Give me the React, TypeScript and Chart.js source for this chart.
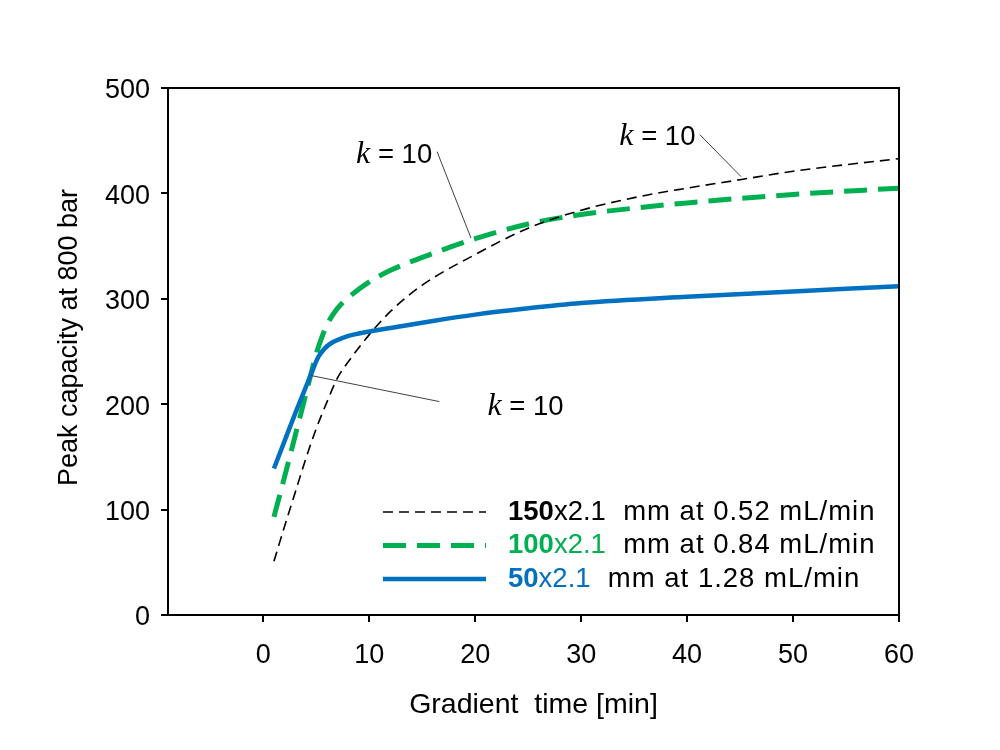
import React, { useEffect, useRef } from "react";
import { Chart, registerables } from "chart.js";

Chart.register(...registerables);

// ---------- data ----------
const xTickValues = [0, 10, 20, 30, 40, 50, 60];
const yTickValues = [0, 100, 200, 300, 400, 500];

const time150 = [1, 2, 3, 4, 5, 6, 7, 8, 10, 12, 15, 20, 25, 30, 35, 40, 45, 50, 60];
const peaks150 = [51, 84, 116, 148, 177, 202, 225, 240, 266, 288, 313, 342, 367, 384, 396, 405, 413, 421, 433];

const time100 = [1, 2, 3, 4, 5, 5.5, 6, 6.5, 7, 8, 10, 12, 16, 20, 25, 30, 35, 40, 50, 60];
const peaks100 = [93, 131, 170, 209, 248, 263, 275, 284, 291, 301, 316, 327, 343, 357, 371, 380, 386, 391, 399, 405];

const time50 = [1, 2, 3, 4, 4.6, 5.2, 5.8, 6.5, 7.5, 8.5, 10, 13, 16, 20, 25, 30, 40, 50, 60];
const peaks50 = [139, 165, 191, 216, 231, 245, 253, 258.5, 263, 266, 269, 274, 279, 285, 291, 296, 302, 307, 312];

// legend rows: [bold number, column size, rest]
const legendNumbers = ["150", "100", "50"];
const legendSizes = ["x2.1", "x2.1", "x2.1"];
const legendRest = ["  mm at 0.52 mL/min", "  mm at 0.84 mL/min", "  mm at 1.28 mL/min"];

// "k = 10" annotations (data coordinates)
const kLabelX = [8.75, 33.6, 21.15];
const kLabelY = [428.8, 446, 189.9];
const leaderStartX = [16.4, 41.2, 16.6];
const leaderStartY = [439.6, 455.7, 202.5];
const leaderEndX = [19.6, 45.1, 4.5];
const leaderEndY = [357.6, 415.8, 227.2];

const BLACK = "#000000";
const GREEN = "#00B050";
const BLUE = "#0070C0";
const SANS = "'Liberation Sans', Arial, sans-serif";
const SERIF = "'Liberation Serif', 'Times New Roman', serif";

const toXY = (xs: number[], ys: number[]) => xs.map((x, i) => ({ x, y: ys[i] }));

const framePlugin = {
  id: "frame",
  afterDraw(chart: any) {
    const { ctx, chartArea } = chart;
    ctx.save();
    ctx.strokeStyle = "#000";
    ctx.lineWidth = 2;
    ctx.beginPath();
    ctx.moveTo(chartArea.left, chartArea.top);
    ctx.lineTo(chartArea.right, chartArea.top);
    ctx.lineTo(chartArea.right, chartArea.bottom);
    ctx.stroke();
    ctx.restore();
  },
};

const annotationPlugin = {
  id: "kAnnotations",
  afterDatasetsDraw(chart: any) {
    const { ctx } = chart;
    const xs = chart.scales.x;
    const ys = chart.scales.y;
    ctx.save();
    ctx.strokeStyle = "#404040";
    ctx.lineWidth = 1;
    for (let i = 0; i < kLabelX.length; i++) {
      ctx.beginPath();
      ctx.moveTo(xs.getPixelForValue(leaderStartX[i]), ys.getPixelForValue(leaderStartY[i]));
      ctx.lineTo(xs.getPixelForValue(leaderEndX[i]), ys.getPixelForValue(leaderEndY[i]));
      ctx.stroke();
      let px = xs.getPixelForValue(kLabelX[i]);
      const py = ys.getPixelForValue(kLabelY[i]);
      ctx.fillStyle = "#000";
      ctx.textBaseline = "alphabetic";
      ctx.textAlign = "left";
      ctx.font = `italic 32px ${SERIF}`;
      ctx.fillText("k", px, py);
      px += ctx.measureText("k").width;
      ctx.font = `27.5px ${SANS}`;
      ctx.fillText(" = 10", px, py);
    }
    ctx.restore();
  },
};

const legendPlugin = {
  id: "customLegend",
  afterDraw(chart: any) {
    const { ctx, chartArea } = chart;
    const rowDatasets = [1, 2, 0];
    const rowColors = [BLACK, GREEN, BLUE];
    const lineX0 = chartArea.left + 215;
    const lineX1 = chartArea.left + 318;
    const textX = chartArea.left + 340;
    const rowY0 = chartArea.top + 424;
    const rowGap = 33.5;
    ctx.save();
    for (let r = 0; r < 3; r++) {
      const ds = chart.data.datasets[rowDatasets[r]];
      const y = rowY0 + r * rowGap;
      ctx.strokeStyle = ds.borderColor;
      ctx.lineWidth = ds.borderWidth;
      ctx.setLineDash(ds.borderDash || []);
      ctx.lineCap = "butt";
      ctx.beginPath();
      ctx.moveTo(lineX0, y);
      ctx.lineTo(lineX1, y);
      ctx.stroke();
      ctx.setLineDash([]);

      ctx.textBaseline = "middle";
      ctx.textAlign = "left";
      let x = textX;
      ctx.font = `bold 27.5px ${SANS}`;
      ctx.fillStyle = rowColors[r];
      ctx.fillText(legendNumbers[r], x, y);
      x += ctx.measureText(legendNumbers[r]).width;
      ctx.font = `27.5px ${SANS}`;
      ctx.fillStyle = r === 0 ? BLACK : rowColors[r];
      ctx.fillText(legendSizes[r], x, y);
      x += ctx.measureText(legendSizes[r]).width;
      ctx.fillStyle = BLACK;
      (ctx as any).letterSpacing = "1px";
      ctx.fillText(legendRest[r], x, y);
      (ctx as any).letterSpacing = "0px";
    }
    ctx.restore();
  },
};

const yTitlePlugin = {
  id: "yTitle",
  afterDraw(chart: any) {
    const { ctx, chartArea } = chart;
    ctx.save();
    ctx.translate(77, (chartArea.top + chartArea.bottom) / 2 - 14);
    ctx.rotate(-Math.PI / 2);
    ctx.font = `27px ${SANS}`;
    ctx.fillStyle = "#000";
    ctx.textAlign = "center";
    ctx.textBaseline = "alphabetic";
    ctx.fillText("Peak capacity at 800 bar", 0, 0);
    ctx.restore();
  },
};

export default function App() {
  const ref = useRef<HTMLCanvasElement>(null);

  useEffect(() => {
    if (!ref.current) return;
    const chart = new Chart(ref.current, {
      type: "line",
      data: {
        datasets: [
          {
            label: "50x2.1 mm at 1.28 mL/min",
            data: toXY(time50, peaks50),
            borderColor: BLUE,
            borderWidth: 4.5,
            pointRadius: 0,
            cubicInterpolationMode: "monotone",
            fill: false,
          },
          {
            label: "150x2.1 mm at 0.52 mL/min",
            data: toXY(time150, peaks150),
            borderColor: BLACK,
            borderWidth: 1.6,
            borderDash: [10, 6],
            pointRadius: 0,
            cubicInterpolationMode: "monotone",
            fill: false,
          },
          {
            label: "100x2.1 mm at 0.84 mL/min",
            data: toXY(time100, peaks100),
            borderColor: GREEN,
            borderWidth: 5,
            borderDash: [23, 11],
            pointRadius: 0,
            cubicInterpolationMode: "monotone",
            fill: false,
          },
        ],
      },
      options: {
        responsive: false,
        animation: false,
        devicePixelRatio: 1,
        layout: { padding: { left: 0, right: 101, top: 88, bottom: 0 } },
        plugins: {
          legend: { display: false },
          tooltip: { enabled: false },
        },
        font: { family: SANS },
        scales: {
          x: {
            type: "linear",
            min: -9,
            max: 60,
            afterBuildTicks: (scale: any) => {
              scale.ticks = xTickValues.map((v) => ({ value: v }));
            },
            afterFit: (scale: any) => {
              scale.height = 135;
            },
            grid: {
              drawOnChartArea: false,
              drawTicks: true,
              tickLength: 7,
              color: "#000",
              lineWidth: 2,
            },
            border: { display: true, color: "#000", width: 2 },
            ticks: {
              color: "#000",
              padding: 17,
              maxRotation: 0,
              autoSkip: false,
              font: { family: SANS, size: 27 },
            },
            title: {
              display: true,
              text: "Gradient  time [min]",
              color: "#000",
              font: { family: SANS, size: 28.5 },
              padding: { top: 0, bottom: 28 },
            },
          },
          y: {
            type: "linear",
            min: 0,
            max: 500,
            afterBuildTicks: (scale: any) => {
              scale.ticks = yTickValues.map((v) => ({ value: v }));
            },
            afterFit: (scale: any) => {
              scale.width = 168;
            },
            grid: {
              drawOnChartArea: false,
              drawTicks: true,
              tickLength: 7,
              color: "#000",
              lineWidth: 2,
            },
            border: { display: true, color: "#000", width: 2 },
            ticks: {
              color: "#000",
              padding: 11,
              labelOffset: 3,
              autoSkip: false,
              font: { family: SANS, size: 27 },
            },
          },
        },
      },
      plugins: [framePlugin, annotationPlugin, legendPlugin, yTitlePlugin],
    } as any);
    return () => chart.destroy();
  }, []);

  return (
    <div style={{ position: "absolute", left: 0, top: 0, width: 1000, height: 750, background: "#fff" }}>
      <canvas ref={ref} width={1000} height={750} style={{ display: "block", width: 1000, height: 750 }} />
    </div>
  );
}
